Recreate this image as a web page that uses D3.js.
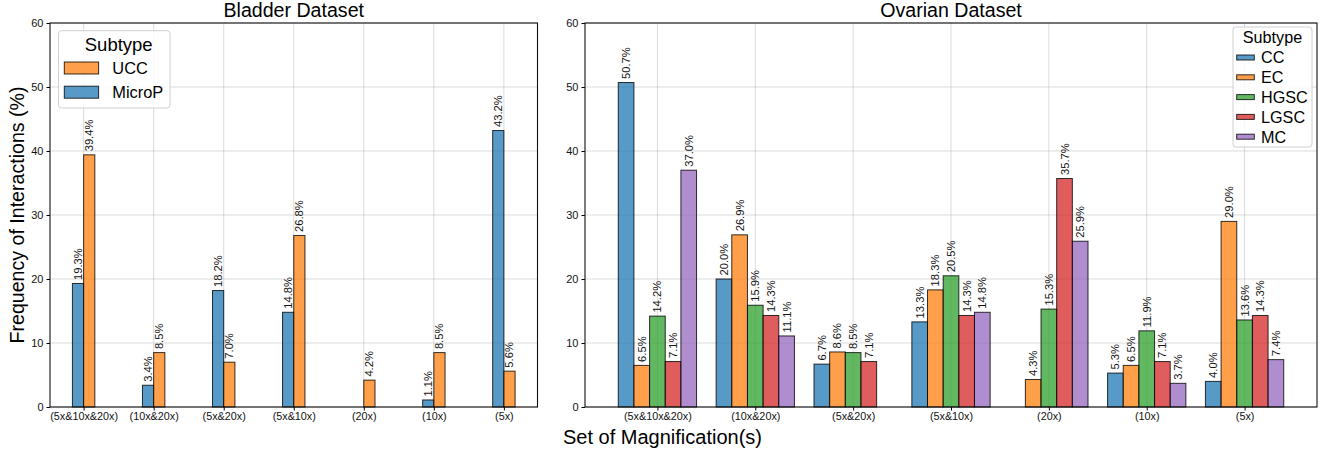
<!DOCTYPE html>
<html>
<head>
<meta charset="utf-8">
<script src="https://cdn.jsdelivr.net/npm/d3@7"></script>
<style>
  body { margin: 0; background: #fff; }
  svg { font-family: "Liberation Sans", Arial, Helvetica, sans-serif; }
</style>
</head>
<body>
<svg id="chart" width="1322" height="455"></svg>
<script>
const categories = ["(5x&10x&20x)", "(10x&20x)", "(5x&20x)", "(5x&10x)", "(20x)", "(10x)", "(5x)"];
const yTicks = [0, 10, 20, 30, 40, 50, 60];

// bladder
const bladderLegend = ["UCC", "MicroP"];
const microP = [19.3, 3.4, 18.2, 14.8, 0, 1.1, 43.2];
const ucc = [39.4, 8.5, 7.0, 26.8, 4.2, 8.5, 5.6];

// ovarian
const ovarianSubtypes = ["CC", "EC", "HGSC", "LGSC", "MC"];
const cc = [50.7, 20.0, 6.7, 13.3, 0, 5.3, 4.0];
const ec = [6.5, 26.9, 8.6, 18.3, 4.3, 6.5, 29.0];
const hgsc = [14.2, 15.9, 8.5, 20.5, 15.3, 11.9, 13.6];
const lgsc = [7.1, 14.3, 7.1, 14.3, 35.7, 7.1, 14.3];
const mc = [37.0, 11.1, 0, 14.8, 25.9, 3.7, 7.4];

const colors = {
  CC: "#1f77b4", EC: "#ff7f0e", HGSC: "#2ca02c", LGSC: "#d62728", MC: "#9467bd",
  MicroP: "#1f77b4", UCC: "#ff7f0e"
};

const svg = d3.select("#chart");
const barW = 0.16;
const plotTop = 23, plotBottom = 407;

const y = d3.scaleLinear().domain([0, 60]).range([plotBottom, plotTop]);

const drawPanel = (opts) => {
  const { x0, x1, xdom, series, title } = opts;
  const x = d3.scaleLinear().domain(xdom).range([x0, x1]);
  const g = svg.append("g");

  // grid
  g.append("g").selectAll("line").data(yTicks).join("line")
    .attr("x1", x0).attr("x2", x1)
    .attr("y1", d => y(d)).attr("y2", d => y(d))
    .attr("stroke", "#b0b0b0").attr("stroke-opacity", 0.45).attr("stroke-width", 1);
  g.append("g").selectAll("line").data(categories).join("line")
    .attr("x1", (d, i) => x(i)).attr("x2", (d, i) => x(i))
    .attr("y1", plotTop).attr("y2", plotBottom)
    .attr("stroke", "#b0b0b0").attr("stroke-opacity", 0.45).attr("stroke-width", 1);

  const n = series.length;
  series.forEach((s, k) => {
    const off = (k - (n - 1) / 2) * barW;
    const data = s.values.map((v, i) => ({ i, v }));
    g.append("g").selectAll("rect").data(data).join("rect")
      .attr("x", d => x(d.i + off - barW / 2))
      .attr("width", d => x(d.i + off + barW / 2) - x(d.i + off - barW / 2))
      .attr("y", d => y(d.v))
      .attr("height", d => y(0) - y(d.v))
      .attr("fill", colors[s.name]).attr("fill-opacity", 0.75)
      .attr("stroke", "#000").attr("stroke-opacity", 0.8).attr("stroke-width", 1);
    g.append("g").selectAll("text").data(data.filter(d => d.v > 0)).join("text")
      .attr("transform", d => `translate(${x(d.i + off) + 4},${y(d.v) - 3.5}) rotate(-90)`)
      .attr("font-size", 11.2).attr("fill", "#111")
      .text(d => d.v.toFixed(1) + "%");
  });

  // axes
  const yAxis = d3.axisLeft(y).tickValues(yTicks).tickSize(3.5).tickPadding(3);
  g.append("g").attr("transform", `translate(${x0},0)`).call(yAxis)
    .call(a => a.select(".domain").remove())
    .call(a => a.selectAll("text").attr("font-size", 11).attr("fill", "#111").style("font-family", "inherit"));
  const xAxis = d3.axisBottom(x).tickValues(d3.range(categories.length))
    .tickFormat(i => categories[i]).tickSize(3.5).tickPadding(2);
  g.append("g").attr("transform", `translate(0,${plotBottom})`).call(xAxis)
    .call(a => a.select(".domain").remove())
    .call(a => a.selectAll("text").attr("font-size", 10.8).attr("fill", "#111").style("font-family", "inherit"));

  g.append("rect").attr("x", x0).attr("y", plotTop).attr("width", x1 - x0).attr("height", plotBottom - plotTop)
    .attr("fill", "none").attr("stroke", "#111").attr("stroke-width", 1.1);

  g.append("text").attr("x", (x0 + x1) / 2).attr("y", 17)
    .attr("text-anchor", "middle").attr("font-size", 19.6).text(title);
  return { g, x };
};

// bladder panel
drawPanel({
  x0: 50, x1: 537.5, xdom: [-0.48, 6.48], title: "Bladder Dataset",
  series: [{ name: "MicroP", values: microP }, { name: "UCC", values: ucc }]
});

// ovarian panel
drawPanel({
  x0: 585, x1: 1317, xdom: [-0.74, 6.74], title: "Ovarian Dataset",
  series: [
    { name: "CC", values: cc }, { name: "EC", values: ec }, { name: "HGSC", values: hgsc },
    { name: "LGSC", values: lgsc }, { name: "MC", values: mc }
  ]
});

// bladder legend
const lg1 = svg.append("g");
lg1.append("rect").attr("x", 58.5).attr("y", 30.7).attr("width", 111.5).attr("height", 77.3).attr("rx", 3)
  .attr("fill", "#fff").attr("fill-opacity", 0.8).attr("stroke", "#d0d0d0");
lg1.append("text").attr("x", 118.7).attr("y", 50.7).attr("text-anchor", "middle").attr("font-size", 18.5).text("Subtype");
bladderLegend.forEach((name, i) => {
  const cy = 68 + i * 24.2;
  lg1.append("rect").attr("x", 64.3).attr("y", cy - 6).attr("width", 34.3).attr("height", 12)
    .attr("fill", colors[name]).attr("fill-opacity", 0.75).attr("stroke", "#000").attr("stroke-opacity", 0.8);
  lg1.append("text").attr("x", 112.3).attr("y", cy + 6).attr("font-size", 16.4).text(name);
});

// ovarian legend
const lg2 = svg.append("g");
lg2.append("rect").attr("x", 1233).attr("y", 27).attr("width", 79).attr("height", 120).attr("rx", 3)
  .attr("fill", "#fff").attr("fill-opacity", 0.8).attr("stroke", "#d0d0d0");
lg2.append("text").attr("x", 1272.5).attr("y", 43.3).attr("text-anchor", "middle").attr("font-size", 16.2).text("Subtype");
ovarianSubtypes.forEach((name, i) => {
  const cy = 57.5 + i * 19.8;
  lg2.append("rect").attr("x", 1236.7).attr("y", cy - 2.5).attr("width", 17.6).attr("height", 5)
    .attr("fill", colors[name]).attr("fill-opacity", 0.75).attr("stroke", "#000").attr("stroke-opacity", 0.8);
  lg2.append("text").attr("x", 1261).attr("y", cy + 5.8).attr("font-size", 16.2).text(name);
});

// shared labels
svg.append("text").attr("transform", `translate(23.5,${(plotTop + plotBottom) / 2}) rotate(-90)`)
  .attr("text-anchor", "middle").attr("font-size", 19.6).text("Frequency of Interactions (%)");
svg.append("text").attr("x", 662.5).attr("y", 444)
  .attr("text-anchor", "middle").attr("font-size", 20).text("Set of Magnification(s)");
</script>
</body>
</html>
